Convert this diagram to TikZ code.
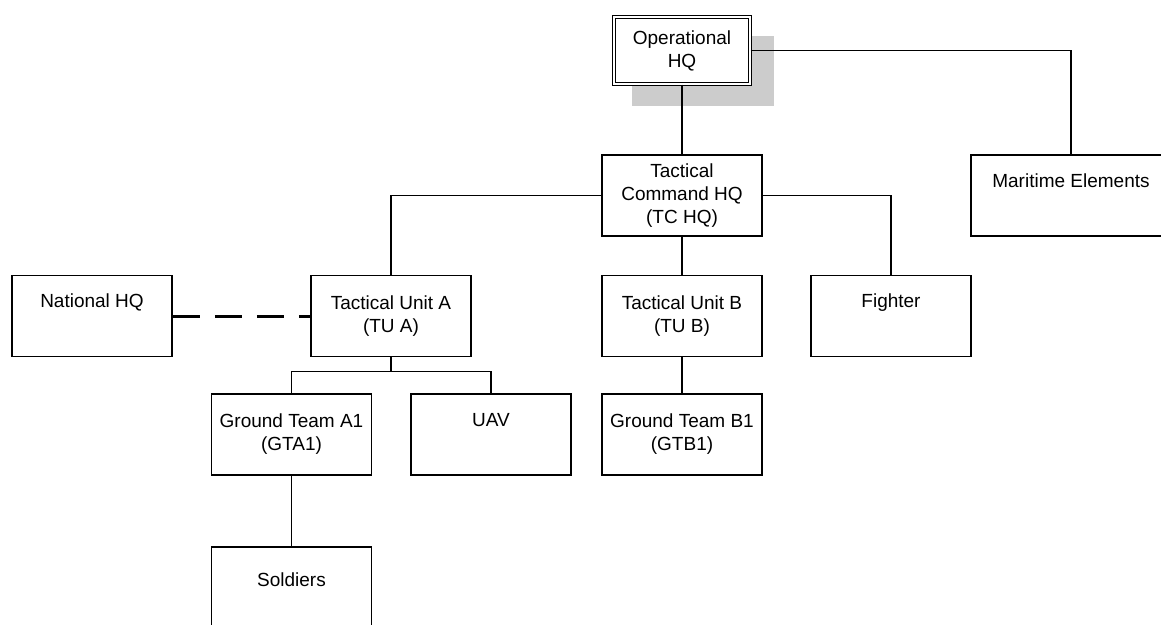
\documentclass[tikz,border=0pt]{standalone}
\usepackage{fontspec}
\setmainfont{Liberation Sans}
\usetikzlibrary{shadows}
\begin{document}
\begin{tikzpicture}[x=1pt,y=-1pt,
  unitbox/.style={draw=black, line width=1.5pt, fill=white,
    minimum width=160pt, minimum height=81pt, align=center,
    inner sep=0pt, font=\fontsize{19}{23}\selectfont},
  link/.style={draw=black, line width=1.5pt},
  liaison/.style={draw=black, line width=3pt, dash pattern=on 27pt off 15pt},
]
\useasboundingbox (0,0) rectangle (1161,624);
\clip (0,0) rectangle (1161,624);

% top of the chain of command
\node[unitbox, double, double distance=2pt, line width=1.2pt,
      minimum width=136pt, minimum height=67pt,
      drop shadow={shadow xshift=20pt, shadow yshift=-19.5pt,
                   shadow scale=1.05, fill=black!20, opacity=1}]
      (op) at (682,50.5) {Operational\\HQ};
\node[unitbox] (tc)  at (682,195.5) {Tactical\\Command HQ\\(TC HQ)};
\node[unitbox, minimum width=200pt] (mar) at (1071,195.5) {Maritime Elements\\\strut};

% second level
\node[unitbox] (nat) at (92,316)  {National HQ\\\strut};
\node[unitbox] (tua) at (391,316) {Tactical Unit A\\(TU A)};
\node[unitbox] (tub) at (682,316) {Tactical Unit B\\(TU B)};
\node[unitbox] (fig) at (891,316) {Fighter\\\strut};

% teams
\node[unitbox] (gta) at (291.5,434.5) {Ground Team A1\\(GTA1)};
\node[unitbox] (uav) at (491,434.5)   {UAV\\\strut};
\node[unitbox] (gtb) at (682,434.5)   {Ground Team B1\\(GTB1)};
\node[unitbox, minimum height=95pt] (sol) at (291.5,594.5) {Soldiers\\\strut};

% connectors
\draw[link] (op.south) -- (tc.north);
\draw[link] (op.east) -| (mar.north);
\draw[link] (tc.west) -| (tua.north);
\draw[link] (tc.east) -| (fig.north);
\draw[link] (tc.south) -- (tub.north);
\draw[link] (tub.south) -- (gtb.north);
\draw[link] (tua.south) -- ++(0,14) coordinate (split);
\draw[link] (gta.north) |- (split) -| (uav.north);
\draw[link, line width=1.2pt] (gta.south) -- (sol.north);
\draw[liaison] (nat.east) -- (tua.west);
\end{tikzpicture}
\end{document}
